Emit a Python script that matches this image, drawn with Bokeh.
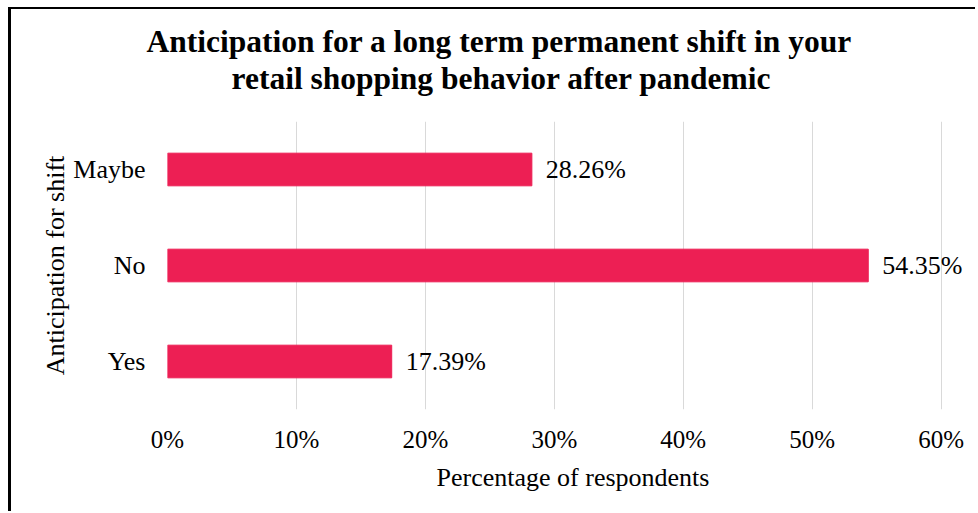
from bokeh.plotting import figure
from bokeh.models import ColumnDataSource, FactorRange, Range1d, FixedTicker, PrintfTickFormatter, Title, LabelSet
from bokeh.embed import file_html
from bokeh.resources import INLINE

categories = ["Yes", "No", "Maybe"]
values = [17.39, 54.35, 28.26]
labels = ["17.39%", "54.35%", "28.26%"]
ticks = [0, 10, 20, 30, 40, 50, 60]
title_lines = ["Anticipation for a long term permanent shift in your",
               "retail shopping behavior after pandemic"]

FONT = "Liberation Serif"
BAR = "#ED1F54"

src = ColumnDataSource(dict(cat=categories, val=values, lab=labels))

p = figure(width=967, height=504, y_range=FactorRange(*categories), x_range=Range1d(0, 62.9),
           output_backend="svg", toolbar_location=None,
           min_border_left=156, min_border_right=0, min_border_top=112, min_border_bottom=104)
p.styles = {"border-left": "3px solid black", "border-top": "2px solid black",
            "margin-left": "8px", "margin-top": "7px"}

p.hbar(y="cat", right="val", left=0, height=0.34, source=src, color=BAR)

p.add_layout(LabelSet(x="val", y="cat", text="lab", source=src, x_offset=14,
                      text_baseline="middle", text_align="left",
                      text_font=FONT, text_font_size="26px", text_color="#000000"))

p.xaxis.ticker = FixedTicker(ticks=ticks)
p.xaxis.formatter = PrintfTickFormatter(format="%d%%")
for ax in (p.xaxis, p.yaxis):
    ax.axis_line_color = None
    ax.major_tick_line_color = None
    ax.minor_tick_line_color = None
    ax.major_tick_out = 0
    ax.major_tick_in = 0
    ax.minor_tick_out = 0
    ax.major_label_text_font = FONT
    ax.major_label_text_color = "#000000"
    ax.axis_label_text_font = FONT
    ax.axis_label_text_font_size = "26px"
    ax.axis_label_text_font_style = "normal"
    ax.axis_label_text_color = "#000000"
p.xaxis.major_label_text_font_size = "25px"
p.yaxis.major_label_text_font_size = "26px"
p.xaxis.major_label_standoff = 16
p.yaxis.major_label_standoff = 22
p.xaxis.axis_label = "Percentage of respondents"
p.yaxis.axis_label = "Anticipation for shift"
p.xaxis.axis_label_standoff = 7
p.yaxis.axis_label_standoff = 0

p.xgrid.grid_line_color = "#d9d9d9"
p.xgrid.grid_line_width = 1
p.ygrid.grid_line_color = None
p.outline_line_color = None

t2 = Title(text=title_lines[1], align="left", offset=64,
           text_font=FONT, text_font_size="31.5px", text_font_style="bold", text_color="#000000",
           standoff=0)
t1 = Title(text=title_lines[0], align="left", offset=-21,
           text_font=FONT, text_font_size="31.5px", text_font_style="bold", text_color="#000000",
           standoff=0)
if "padding" in Title.properties():
    t2.padding = (0, 0, 0, 26)
else:
    t2.standoff = 26
p.add_layout(t2, "above")
p.add_layout(t1, "above")

open("out.html", "w").write(file_html(p, INLINE))
